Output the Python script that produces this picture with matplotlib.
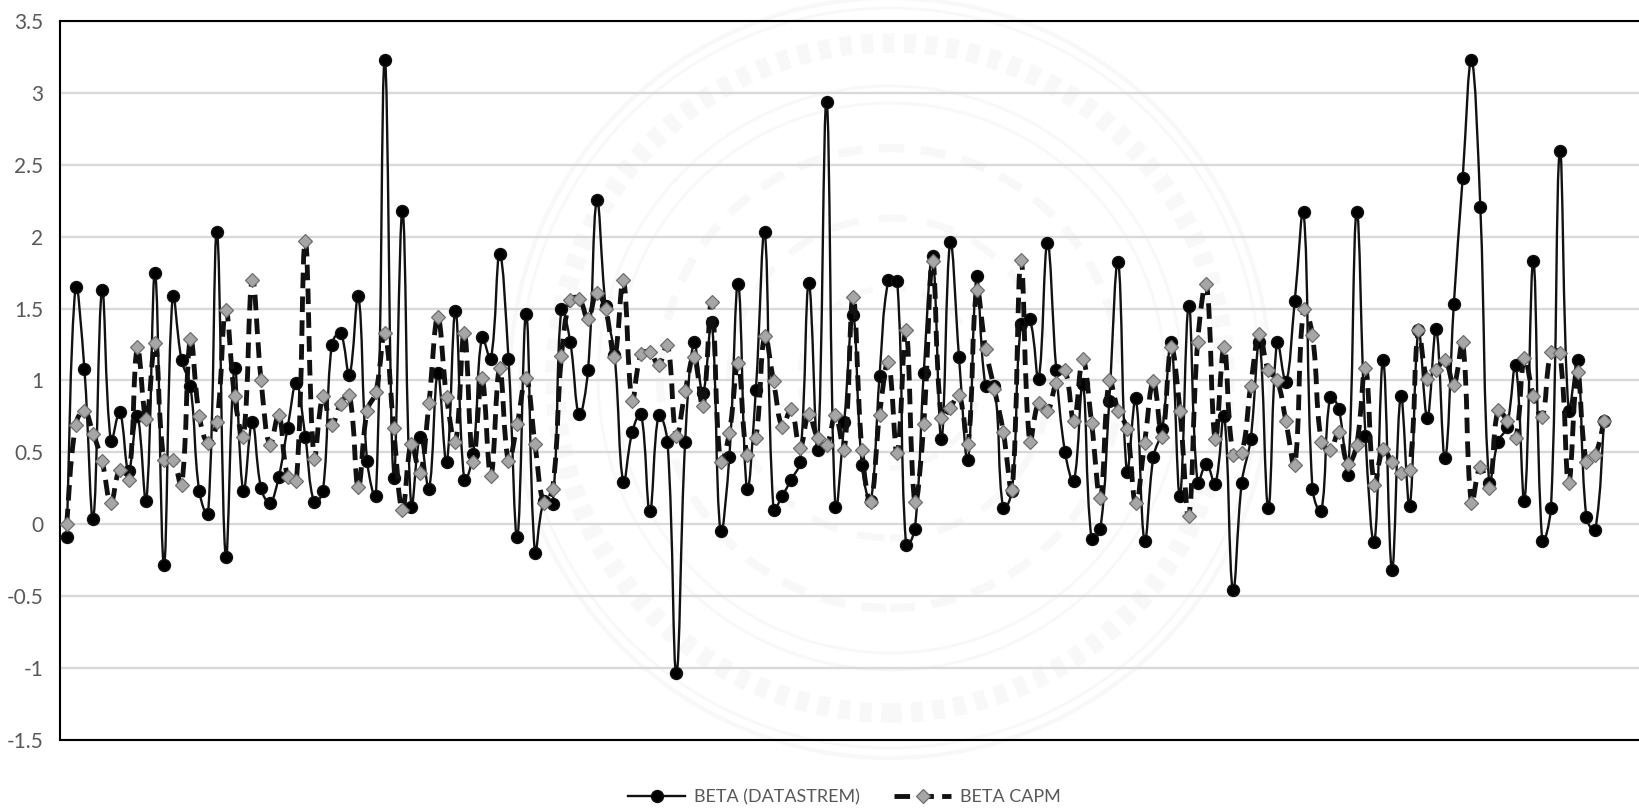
import matplotlib
matplotlib.use("Agg")
import matplotlib.pyplot as plt
from matplotlib.lines import Line2D
from matplotlib.patches import Circle, PathPatch
from matplotlib.path import Path

# values, one per category
beta_datastream = [
    -0.09, 1.65, 1.08, 0.04, 1.63, 0.58, 0.78, 0.37, 0.75, 0.16,
    1.75, -0.28, 1.59, 1.14, 0.96, 0.23, 0.07, 2.03, -0.23, 1.09,
    0.23, 0.71, 0.25, 0.15, 0.33, 0.67, 0.98, 0.61, 0.155, 0.23,
    1.25, 1.33, 1.04, 1.59, 0.44, 0.20, 3.23, 0.32, 2.18, 0.12,
    0.605, 0.245, 1.05, 0.43, 1.48, 0.31, 0.49, 1.30, 1.15, 1.88,
    1.15, -0.085, 1.465, -0.20, 0.16, 0.14, 1.50, 1.265, 0.765, 1.07,
    2.255, 1.515, 1.18, 0.295, 0.64, 0.77, 0.09, 0.76, 0.575, -1.035,
    0.575, 1.265, 0.91, 1.41, -0.05, 0.47, 1.67, 0.245, 0.935, 2.03,
    0.10, 0.20, 0.31, 0.435, 1.675, 0.52, 2.94, 0.12, 0.71, 1.455,
    0.41, 0.16, 1.03, 1.70, 1.695, -0.145, -0.03, 1.05, 1.865, 0.59,
    1.96, 1.16, 0.445, 1.725, 0.96, 0.96, 0.11, 0.235, 1.39, 1.43,
    1.01, 1.955, 1.075, 0.50, 0.30, 0.975, -0.105, -0.03, 0.86, 1.825,
    0.365, 0.875, -0.115, 0.47, 0.66, 1.265, 0.20, 1.52, 0.29, 0.42,
    0.28, 0.755, -0.46, 0.29, 0.59, 1.265, 0.115, 1.27, 0.99, 1.555,
    2.17, 0.245, 0.09, 0.885, 0.80, 0.34, 2.17, 0.615, -0.125, 1.14,
    -0.315, 0.89, 0.13, 1.35, 0.74, 1.355, 0.46, 1.53, 2.405, 3.23,
    2.205, 0.29, 0.575, 0.675, 1.105, 0.165, 1.83, -0.115, 0.115, 2.595,
    0.79, 1.14, 0.05, -0.04, 0.72,
]
beta_capm = [
    0.0, 0.69, 0.79, 0.63, 0.44, 0.15, 0.38, 0.31, 1.23, 0.73,
    1.26, 0.45, 0.45, 0.27, 1.29, 0.755, 0.565, 0.71, 1.49, 0.89,
    0.61, 1.70, 1.0, 0.55, 0.76, 0.33, 0.30, 1.97, 0.455, 0.89,
    0.69, 0.84, 0.90, 0.26, 0.79, 0.92, 1.33, 0.67, 0.10, 0.56,
    0.355, 0.845, 1.44, 0.885, 0.57, 1.33, 0.43, 1.015, 0.335, 1.085,
    0.44, 0.70, 1.02, 0.56, 0.15, 0.245, 1.17, 1.56, 1.57, 1.43,
    1.61, 1.495, 1.165, 1.70, 0.86, 1.185, 1.195, 1.11, 1.25, 0.615,
    0.925, 1.165, 0.82, 1.545, 0.43, 0.635, 1.12, 0.485, 0.60, 1.31,
    0.995, 0.68, 0.80, 0.53, 0.765, 0.60, 0.55, 0.76, 0.515, 1.58,
    0.52, 0.155, 0.76, 1.13, 0.495, 1.35, 0.155, 0.695, 1.83, 0.74,
    0.81, 0.90, 0.56, 1.63, 1.22, 0.94, 0.645, 0.24, 1.835, 0.57,
    0.845, 0.785, 0.985, 1.07, 0.715, 1.15, 0.705, 0.185, 1.005, 0.79,
    0.665, 0.145, 0.565, 0.995, 0.605, 1.23, 0.79, 0.06, 1.265, 1.67,
    0.59, 1.23, 0.485, 0.495, 0.96, 1.32, 1.07, 1.005, 0.715, 0.41,
    1.50, 1.315, 0.575, 0.52, 0.64, 0.42, 0.55, 1.09, 0.275, 0.525,
    0.43, 0.36, 0.38, 1.35, 1.01, 1.075, 1.145, 0.97, 1.265, 0.145,
    0.40, 0.25, 0.795, 0.72, 0.60, 1.155, 0.895, 0.745, 1.195, 1.19,
    0.29, 1.06, 0.435, 0.48, 0.72,
]
y_ticks = [-1.5, -1, -0.5, 0, 0.5, 1, 1.5, 2, 2.5, 3, 3.5]
y_labels = ["-1.5", "-1", "-0.5", "0", "0.5", "1", "1.5", "2", "2.5", "3", "3.5"]
series_names = ["BETA (DATASTREM)", "BETA CAPM"]

W, H = 1640, 808
x = list(range(len(beta_datastream)))


def smooth_path(xs, ys, s=0.4):
    # bezier through the points, handle length follows the chord so flat bits stay flat
    n = len(xs)
    # rough pixels per unit, only used for chord lengths
    dist = [((xs[i + 1] - xs[i]) ** 2 * 78 + (ys[i + 1] - ys[i]) ** 2 * 20680) ** 0.5 for i in range(n - 1)]
    verts = [(xs[0], ys[0])]
    codes = [Path.MOVETO]
    for i in range(n - 1):
        a = max(i - 1, 0)
        d = min(i + 2, n - 1)
        f1 = s * dist[i] / (dist[i] + dist[i - 1]) if i > 0 else s / 2
        f2 = s * dist[i] / (dist[i] + dist[i + 1]) if i < n - 2 else s / 2
        verts.append((xs[i] + (xs[i + 1] - xs[a]) * f1, ys[i] + (ys[i + 1] - ys[a]) * f1))
        verts.append((xs[i + 1] - (xs[d] - xs[i]) * f2, ys[i + 1] - (ys[d] - ys[i]) * f2))
        verts.append((xs[i + 1], ys[i + 1]))
        codes += [Path.CURVE4, Path.CURVE4, Path.CURVE4]
    return Path(verts, codes)


fig = plt.figure(figsize=(W / 100, H / 100), dpi=100)
ax = fig.add_axes([60 / W, 1 - 740 / H, (1642 - 60) / W, (740 - 21) / H])
ax.patch.set_alpha(0)

# faint seal behind the plot, in pixels so it stays round
seal = [(380, 3, "-"), (370, 2, "-"), (335, 14, (0, (0.6, 0.5))), (292, 2, "-"), (275, 2, "-"),
        (230, 6, (0, (3.0, 2.0))), (160, 5, (0, (4.0, 3.0))), (90, 4, (0, (3.0, 3.0)))]
for r, lw, ls in seal:
    fig.add_artist(Circle((890, H - 378), r, fill=False, ec="#f8f8f8", lw=lw, ls=ls,
                          transform=None, zorder=-5))

ax.add_patch(PathPatch(smooth_path(x, beta_datastream), fill=False, ec="#111111", lw=1.7, zorder=3))
ax.plot(x, beta_datastream, ls="none", marker="o", ms=8.6, mfc="#000000", mec="#111111", zorder=3)
ax.add_patch(PathPatch(smooth_path(x, beta_capm), fill=False, ec="#111111", lw=3.5,
                       ls=(0, (3.2, 1.7)), zorder=4))
ax.plot(x, beta_capm, ls="none", marker="D", ms=6.8, mfc="#a6a6a6", mec="#6e6e6e", mew=0.9, zorder=4)

ax.set_xlim(-0.76, 178.3)
ax.set_ylim(-1.5, 3.5)
ax.set_yticks(y_ticks)
ax.set_yticklabels(y_labels, fontname="Lato", fontsize=15, color="#595959")
ax.set_xticks([])
ax.tick_params(axis="y", length=0, pad=12)
ax.grid(axis="y", color="#d9d9d9", lw=1.7, zorder=0)
ax.set_axisbelow(True)
for s in ax.spines.values():
    s.set_linewidth(1.5)
    s.set_color("#000000")

handles = [
    Line2D([], [], color="#111111", lw=1.7, marker="o", ms=8.6, mfc="#000000", mec="#111111"),
    Line2D([], [], color="#111111", lw=3.5, ls=(0, (3.2, 1.7)), marker="D", ms=6.8, mfc="#a6a6a6",
           mec="#6e6e6e", mew=0.9),
]
fig.legend(handles, series_names, loc="center", bbox_to_anchor=(844 / W, 1 - 797 / H), ncol=2,
           frameon=False, numpoints=1, handlelength=3.2, handletextpad=0.45, columnspacing=1.9,
           prop={"family": "Lato", "size": 13}, labelcolor="#595959")

fig.savefig("out.png", dpi=100)
